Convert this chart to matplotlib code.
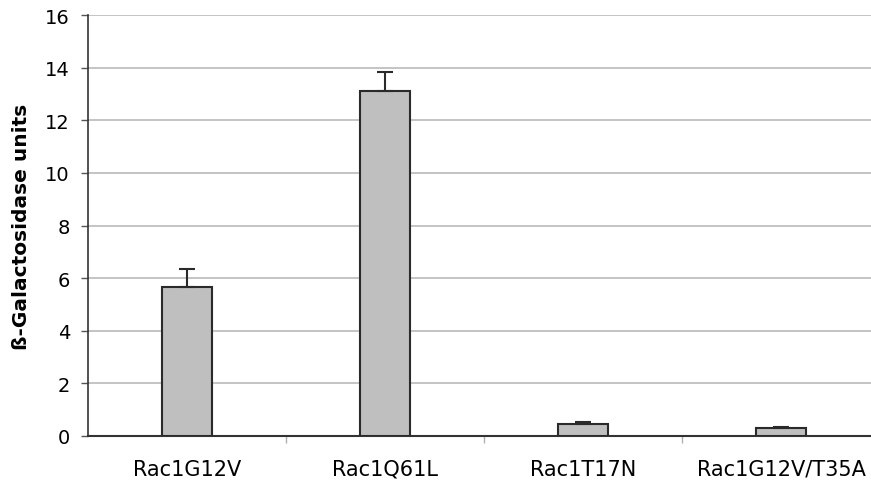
import matplotlib
matplotlib.use("Agg")
import matplotlib.pyplot as plt
import numpy as np

categories = ["Rac1G12V", "Rac1Q61L", "Rac1T17N", "Rac1G12V/T35A"]
values = [5.68, 13.12, 0.45, 0.30]
errors = [0.68, 0.72, 0.08, 0.03]
yticks = [0, 2, 4, 6, 8, 10, 12, 14, 16]

plt.rcParams['font.family'] = ['DejaVu Sans']
fig = plt.figure(figsize=(8.71, 4.81), dpi=100)
ax = fig.add_axes([88/871, 1-437/481, 792/871, (437-16)/481])

x = np.arange(len(categories))
ax.bar(x, values, width=0.25, color='#bfbfbf', edgecolor='#2a2a2a', linewidth=1.5, zorder=3)
ax.errorbar(x, values, yerr=[np.zeros(len(errors)), errors], fmt='none', ecolor='#2a2a2a',
            elinewidth=1.5, capsize=6, capthick=1.5, zorder=4)

ax.set_ylim(0, 16)
ax.set_xlim(-0.5, len(categories) - 0.5)
ax.set_yticks(yticks)
ax.set_yticklabels([str(t) for t in yticks], fontsize=14)
ax.yaxis.grid(True, color='#bababa', linewidth=1.2, zorder=0)
ax.set_axisbelow(True)

ax.set_xticks(x)
ax.set_xticklabels(categories, fontsize=15)
ax.tick_params(axis='x', length=0, pad=16.5)
ax.set_xticks(np.arange(0.5, len(categories) - 0.5, 1), minor=True)
ax.tick_params(axis='x', which='minor', length=5, color='#b0b0b0', width=1)
ax.tick_params(axis='y', length=5, color='#555555', width=1, pad=8)

for s in ['top', 'right']:
    ax.spines[s].set_visible(False)
ax.spines['left'].set_color('#333333')
ax.spines['left'].set_linewidth(1.2)
ax.spines['bottom'].set_color('#333333')
ax.spines['bottom'].set_linewidth(1.5)

ax.set_ylabel("ß-Galactosidase units", fontsize=14.5, fontweight='bold', labelpad=10)

fig.savefig("out.png", dpi=100)
